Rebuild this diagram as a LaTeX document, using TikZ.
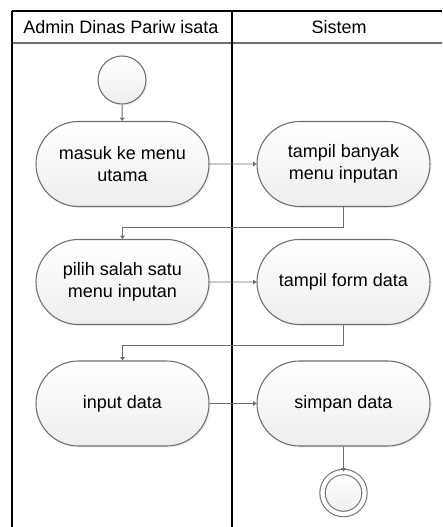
\documentclass[tikz,border=0pt]{standalone}
\usepackage{fontspec}
\setmainfont{Liberation Sans}
\usetikzlibrary{arrows.meta,shapes.misc,shadows}
\definecolor{edgegray}{HTML}{6E6E6E}
\definecolor{fillgray}{HTML}{EEEEEE}
\tikzset{
  lane/.style={line width=1.3pt, black},
  action/.style={rounded rectangle, draw=edgegray, line width=0.8pt,
    top color=white, bottom color=fillgray,
    minimum width=173*0.75pt, minimum height=85*0.75pt,
    align=center, font=\fontsize{13.5}{17}\selectfont, inner sep=0pt,
    drop shadow={opacity=0.12, shadow xshift=1.2pt, shadow yshift=-1.2pt}},
  startnode/.style={circle, draw=edgegray, line width=0.8pt,
    top color=white, bottom color=fillgray, minimum size=48*0.75pt, inner sep=0pt,
    drop shadow={opacity=0.12, shadow xshift=1.2pt, shadow yshift=-1.2pt}},
  endnode/.style={circle, draw=edgegray, line width=0.8pt, double=white,
    double distance=3.2pt, top color=white, bottom color=fillgray,
    minimum size=42*0.75pt, inner sep=0pt,
    drop shadow={opacity=0.12, shadow xshift=1.2pt, shadow yshift=-1.2pt}},
  flow/.style={draw=edgegray, line width=0.7pt,
    -{Triangle[width=3.5pt,length=2.5pt]}},
  title/.style={font=\fontsize{13.5}{17}\selectfont}
}
\begin{document}
\begin{tikzpicture}[x=0.75pt, y=-0.75pt]
\useasboundingbox (0,0) rectangle (442,527);
% swimlane frame
\draw[edgegray, line width=0.8pt] (12,43) -- (442,43);
\draw[lane] (12,11) -- (442,11);
\draw[lane] (12,11) -- (12,527);
\draw[lane] (232,11) -- (232,527);
\node[title] (laneA) at (121,27) {Admin Dinas Pariw isata};
\node[title] (laneB) at (339,27) {Sistem};
% activity nodes
\node[startnode] (start) at (122,80) {};
\node[action] (a1) at (122.5,164) {masuk ke menu\\utama};
\node[action] (b1) at (343.5,164) {tampil banyak\\menu inputan};
\node[action] (a2) at (122.5,282) {pilih salah satu\\menu inputan};
\node[action] (b2) at (343.5,282) {tampil form data};
\node[action] (a3) at (122.5,403.5) {input data};
\node[action] (b3) at (343.5,403.5) {simpan data};
\node[endnode] (stop) at (343.5,493) {};
% control flow
\draw[flow] (start) -- (a1);
\draw[flow] (a1) -- (b1);
\draw[flow] (b1.south) -- ++(0,20) -| (a2.north);
\draw[flow] (a2) -- (b2);
\draw[flow] (b2.south) -- ++(0,20) -| (a3.north);
\draw[flow] (a3) -- (b3);
\draw[flow] (b3) -- (stop);
\end{tikzpicture}
\end{document}
